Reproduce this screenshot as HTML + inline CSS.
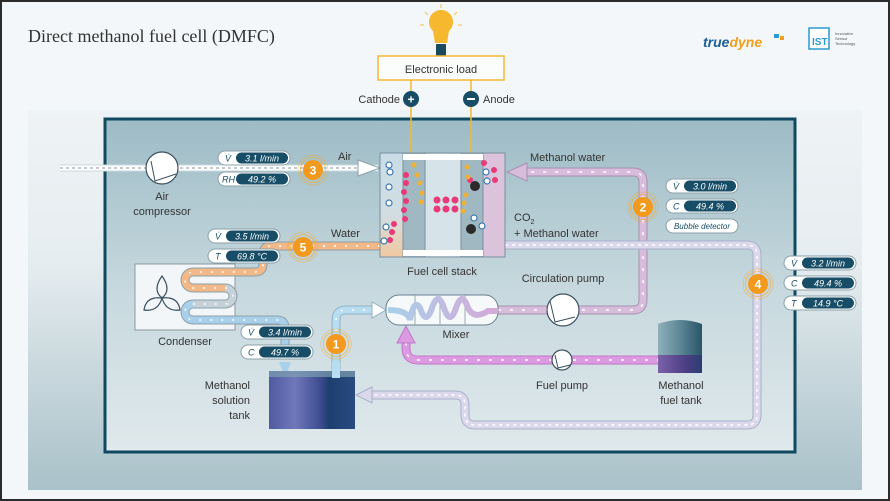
<!DOCTYPE html>
<html><head><meta charset="utf-8"><style>
html,body{margin:0;padding:0;background:#fff}
svg{display:block}
text{font-family:"Liberation Sans",sans-serif}
</style></head><body>
<svg width="890" height="501" viewBox="0 0 890 501" xmlns="http://www.w3.org/2000/svg">
<defs>
<linearGradient id="outer" x1="0" y1="0" x2="0" y2="1">
<stop offset="0" stop-color="#f3f6f8"/><stop offset="0.5" stop-color="#e6edf0"/><stop offset="1" stop-color="#a9c1c9"/></linearGradient>
<linearGradient id="inner" x1="0" y1="0" x2="0" y2="1">
<stop offset="0" stop-color="#9dbbc5"/><stop offset="0.5" stop-color="#c6d8de"/><stop offset="1" stop-color="#e0e9ec"/></linearGradient>
<linearGradient id="tank" x1="0" y1="0" x2="1" y2="0">
<stop offset="0" stop-color="#4f5aa0"/><stop offset="0.3" stop-color="#7078bb"/><stop offset="0.6" stop-color="#3d4c90"/><stop offset="0.7" stop-color="#1b3f6e"/><stop offset="1" stop-color="#2a4a80"/></linearGradient>
<linearGradient id="ftank" x1="0" y1="0" x2="1" y2="0">
<stop offset="0" stop-color="#8fb0ba"/><stop offset="0.5" stop-color="#5c8796"/><stop offset="1" stop-color="#2a5468"/></linearGradient>
<linearGradient id="ftank2" x1="0" y1="0" x2="1" y2="0">
<stop offset="0" stop-color="#7a62a8"/><stop offset="0.6" stop-color="#4e3f86"/><stop offset="1" stop-color="#2c3d70"/></linearGradient>
<linearGradient id="cath" x1="0" y1="0" x2="0" y2="1">
<stop offset="0" stop-color="#c9dde6"/><stop offset="0.6" stop-color="#d2dde2"/><stop offset="1" stop-color="#f3c9a0"/></linearGradient>
<linearGradient id="mix" x1="0" y1="0" x2="1" y2="0">
<stop offset="0" stop-color="#a8d0ea"/><stop offset="1" stop-color="#d6a8d8"/></linearGradient>
</defs>
<rect x="0" y="0" width="890" height="501" fill="#2b2b2b"/>
<rect x="2" y="2" width="886" height="497" fill="#f4f7f9"/>
<rect x="28" y="30" width="834" height="460" fill="url(#outer)"/>
<rect x="28" y="30" width="834" height="80" fill="#f4f7f9"/>
<rect x="105" y="119" width="690" height="333" fill="url(#inner)" stroke="#0f4a60" stroke-width="3"/>

<text x="28" y="42" style="font-family:'Liberation Serif',serif" font-size="18" fill="#333">Direct methanol fuel cell (DMFC)</text>
<text x="703" y="47" font-size="14" font-style="italic" font-weight="bold" fill="#1a5f96">true<tspan fill="#f0a020">dyne</tspan></text>
<rect x="774" y="34" width="5" height="4" fill="#2a9ad0"/><rect x="780" y="36" width="4" height="4" fill="#f0a020"/>
<rect x="809" y="28" width="20" height="21" fill="#fff" stroke="#2a9ad0" stroke-width="1.5"/>
<text x="812" y="45" font-size="10" fill="#2a9ad0" font-weight="bold">IST</text>
<text x="835" y="35" font-size="4" fill="#555">Innovative</text><text x="835" y="40" font-size="4" fill="#555">Sensor</text><text x="835" y="45" font-size="4" fill="#555">Technology</text>

<!-- bulb -->
<g stroke="#f5c860" stroke-width="1.2">
<line x1="441" y1="4" x2="441" y2="8"/><line x1="425" y1="12" x2="428" y2="15"/><line x1="457" y1="12" x2="454" y2="15"/><line x1="420" y1="25" x2="424" y2="25"/><line x1="462" y1="25" x2="458" y2="25"/>
</g>
<path d="M441 10 a12 12 0 0 1 8 21 l-2 12 h-12 l-2 -12 a12 12 0 0 1 8 -21z" fill="#f5b82e"/>
<rect x="436" y="44" width="10" height="12" rx="1" fill="#1a4a5e"/>
<rect x="378" y="56" width="126" height="24" fill="#fbfcfc" stroke="#f5b82e" stroke-width="1.5"/>
<text x="441" y="73" font-size="11" fill="#333" text-anchor="middle">Electronic load</text>
<line x1="411" y1="80" x2="411" y2="160" stroke="#f5b82e" stroke-width="1.5"/>
<line x1="471" y1="80" x2="471" y2="160" stroke="#f5b82e" stroke-width="1.5"/>
<circle cx="411" cy="99" r="8" fill="#174d66"/><text x="411" y="103.5" font-size="12" font-weight="bold" fill="#fff" text-anchor="middle">+</text>
<circle cx="471" cy="99" r="8" fill="#174d66"/><rect x="467" y="98" width="8" height="2" fill="#fff"/>
<text x="400" y="103" font-size="11" fill="#333" text-anchor="end">Cathode</text>
<text x="483" y="103" font-size="11" fill="#333">Anode</text>

<!-- condenser box -->
<rect x="135" y="264" width="100" height="66" fill="#f3f6f8" stroke="#8a9aa2"/>
<g fill="none" stroke="#3a5060" stroke-width="1.2">
<path d="M162 276 q-10 14 0 22 q10 -8 0 -22z"/><path d="M162 298 q-4 14 -18 12 q2 -14 18 -12z"/><path d="M162 298 q4 14 18 12 q-2 -14 -18 -12z"/>
</g>

<!-- pipes -->
<g fill="none" stroke-linejoin="round">
<!-- air -->
<path d="M60 168 H378" stroke="#c8d8de" stroke-width="7"/>
<path d="M60 168 H378" stroke="#fff" stroke-width="5"/>
<path d="M60 168 H378" stroke="#aabac2" stroke-width="1.5" stroke-dasharray="3 3"/>
<!-- water / condenser serpentine -->
<path d="M380 246 H271 q-8 0 -8 8 v10 q0 8 -8 8 H193 a8 8 0 0 0 0 16 H225 a8 8 0 0 1 0 16 H193 a8 8 0 0 0 0 16 H277 q8 0 8 8 v18" stroke="#8aa0aa" stroke-width="9"/>
<path d="M380 246 H271 q-8 0 -8 8 v10 q0 8 -8 8 H193 a8 8 0 0 0 0 16 H225" stroke="#f2b888" stroke-width="7"/>
<path d="M225 288 a8 8 0 0 1 0 16 H193" stroke="#c6d2d8" stroke-width="7"/>
<path d="M193 304 a8 8 0 0 0 0 16 H277 q8 0 8 8 v18" stroke="#a8d0ea" stroke-width="7"/>
<path d="M380 246 H271 q-8 0 -8 8 v10 q0 8 -8 8 H193 a8 8 0 0 0 0 16 H225 a8 8 0 0 1 0 16 H193 a8 8 0 0 0 0 16 H277 q8 0 8 8 v18" stroke="#fff" stroke-width="1.5" stroke-dasharray="2 9"/>
<!-- tank to mixer -->
<path d="M336 375 V320 q0 -10 10 -10 H372" stroke="#8fb2c6" stroke-width="9"/>
<path d="M336 375 V320 q0 -10 10 -10 H372" stroke="#b8dcf0" stroke-width="7"/>
<path d="M336 375 V320 q0 -10 10 -10 H372" stroke="#fff" stroke-width="1.5" stroke-dasharray="2 9"/>
<!-- methanol water loop -->
<path d="M498 310 H633 q10 0 10 -10 V182 q0 -10 -10 -10 H520" stroke="#a890b0" stroke-width="9"/>
<path d="M498 310 H633 q10 0 10 -10 V182 q0 -10 -10 -10 H520" stroke="#d8bcdc" stroke-width="7"/>
<path d="M498 310 H633 q10 0 10 -10 V182 q0 -10 -10 -10 H520" stroke="#fff" stroke-width="1.5" stroke-dasharray="3 9"/>
<!-- CO2 loop -->
<path d="M505 245 H747 q10 0 10 10 V415 q0 10 -10 10 H475 q-10 0 -10 -10 V405 q0 -10 -10 -10 H370" stroke="#a8b0c8" stroke-width="9"/>
<path d="M505 245 H747 q10 0 10 10 V415 q0 10 -10 10 H475 q-10 0 -10 -10 V405 q0 -10 -10 -10 H370" stroke="#dcd8ec" stroke-width="7"/>
<path d="M505 245 H747 q10 0 10 10 V415 q0 10 -10 10 H475 q-10 0 -10 -10 V405 q0 -10 -10 -10 H370" stroke="#fff" stroke-width="1.5" stroke-dasharray="3 4"/>
<!-- fuel line -->
<path d="M660 360 H418 q-12 0 -12 -12 V340" stroke="#c078c8" stroke-width="9"/>
<path d="M660 360 H418 q-12 0 -12 -12 V340" stroke="#dc9ae0" stroke-width="7"/>
<path d="M660 360 H418 q-12 0 -12 -12 V340" stroke="#fff" stroke-width="1.5" stroke-dasharray="3 9"/>
</g>
<!-- arrows -->
<path d="M358 160 L380 168 L358 176 Z" fill="#fff" stroke="#8aa0aa"/>
<path d="M372 302 L386 310 L372 318 Z" fill="#fff" stroke="#8fb2c6"/>
<path d="M527 163 L507 172 L527 181 Z" fill="#d8bcdc" stroke="#a890b0"/>
<path d="M372 387 L356 395 L372 403 Z" fill="#dcd8ec" stroke="#a8b0c8"/>
<path d="M397 343 L406 326 L415 343 Z" fill="#dc9ae0" stroke="#c078c8"/>
<path d="M279 362 L285 378 L291 362 Z" fill="#a8d0ea"/>

<!-- compressor -->
<circle cx="162" cy="168" r="16" fill="#fff" stroke="#3a5060" stroke-width="1.2"/>
<path d="M151 161 L155 181 L176 174" fill="none" stroke="#3a5060"/>
<text x="162" y="200" font-size="11" fill="#333" text-anchor="middle">Air</text>
<text x="162" y="215" font-size="11" fill="#333" text-anchor="middle">compressor</text>
<text x="185" y="345" font-size="11" fill="#333" text-anchor="middle">Condenser</text>

<!-- solution tank -->
<rect x="269" y="371" width="86" height="58" fill="url(#tank)"/>
<rect x="269" y="371" width="86" height="6" fill="#7fa0b0" opacity="0.7"/>
<rect x="332" y="362" width="8" height="16" fill="#b8dcf0"/>
<text x="250" y="389" font-size="11" fill="#333" text-anchor="end">Methanol</text>
<text x="250" y="404" font-size="11" fill="#333" text-anchor="end">solution</text>
<text x="250" y="419" font-size="11" fill="#333" text-anchor="end">tank</text>

<!-- mixer -->
<rect x="386" y="295" width="112" height="30" rx="13" fill="#f6f9fa" stroke="#6a8090"/>
<g stroke="#9aaab2"><line x1="415" y1="295" x2="415" y2="325"/><line x1="440" y1="295" x2="440" y2="325"/><line x1="465" y1="295" x2="465" y2="325"/></g>
<path d="M388 310 q20 0 22 10 q4 -22 10 -12 q6 18 12 0 q6 -18 12 0 q6 18 12 0 q6 -18 12 0 q6 12 20 3 H498" fill="none" stroke="url(#mix)" stroke-width="6"/>
<text x="456" y="338" font-size="11" fill="#333" text-anchor="middle">Mixer</text>

<!-- circulation pump -->
<circle cx="563" cy="310" r="16" fill="#fff" stroke="#3a5060" stroke-width="1.2"/>
<path d="M550 301 L555 322 L575 317" fill="none" stroke="#3a5060"/>
<text x="563" y="282" font-size="11" fill="#333" text-anchor="middle">Circulation pump</text>
<!-- fuel pump -->
<circle cx="562" cy="360" r="10" fill="#fff" stroke="#3a5060" stroke-width="1.2"/>
<path d="M555 355 L558 368 L570 365" fill="none" stroke="#3a5060"/>
<text x="562" y="389" font-size="11" fill="#333" text-anchor="middle">Fuel pump</text>
<!-- fuel tank -->
<path d="M658 324 q22 -8 44 0 V355 H658z" fill="url(#ftank)"/>
<rect x="658" y="355" width="44" height="18" fill="url(#ftank2)"/>
<text x="681" y="389" font-size="11" fill="#333" text-anchor="middle">Methanol</text>
<text x="681" y="404" font-size="11" fill="#333" text-anchor="middle">fuel tank</text>

<!-- fuel cell stack -->
<rect x="380" y="153" width="23" height="104" fill="url(#cath)" stroke="#7890a0"/>
<rect x="403" y="153" width="22" height="104" fill="#9fb8c2" stroke="#7890a0"/>
<rect x="425" y="153" width="36" height="104" fill="#d6e4e9" stroke="#7890a0"/>
<rect x="461" y="153" width="22" height="104" fill="#9fb8c2" stroke="#7890a0"/>
<rect x="483" y="153" width="22" height="104" fill="#dcc3dc" stroke="#7890a0"/>
<rect x="403" y="154" width="80" height="6" fill="#fff"/>
<rect x="403" y="250" width="80" height="6" fill="#fff"/>
<g>
<g fill="#fff" stroke="#3a78b0" stroke-width="1.2">
<circle cx="389" cy="165" r="3"/><circle cx="390" cy="172" r="3"/><circle cx="389" cy="187" r="3"/><circle cx="389" cy="203" r="3"/><circle cx="386" cy="227" r="3"/><circle cx="384" cy="241" r="3"/>
<circle cx="486" cy="172" r="3"/><circle cx="487" cy="181" r="3"/><circle cx="474" cy="218" r="3"/><circle cx="482" cy="226" r="3"/>
</g>
<g fill="#e83a78">
<circle cx="406" cy="175" r="3"/><circle cx="406" cy="183" r="3"/><circle cx="404" cy="192" r="3"/><circle cx="406" cy="201" r="3"/><circle cx="404" cy="210" r="3"/><circle cx="405" cy="219" r="3"/><circle cx="394" cy="224" r="3"/><circle cx="392" cy="232" r="3"/><circle cx="390" cy="240" r="3"/>
<circle cx="437" cy="200" r="3.5"/><circle cx="446" cy="200" r="3.5"/><circle cx="455" cy="200" r="3.5"/><circle cx="437" cy="209" r="3.5"/><circle cx="446" cy="209" r="3.5"/><circle cx="455" cy="209" r="3.5"/>
<circle cx="484" cy="163" r="3"/><circle cx="494" cy="170" r="3"/><circle cx="495" cy="180" r="3"/><circle cx="470" cy="180" r="3"/><circle cx="474" cy="188" r="3"/>
</g>
<g fill="#f0b030">
<circle cx="414" cy="165" r="2.5"/><circle cx="417" cy="175" r="2.5"/><circle cx="420" cy="183" r="2.5"/><circle cx="422" cy="193" r="2.5"/><circle cx="421" cy="202" r="2.5"/>
<circle cx="467" cy="167" r="2.5"/><circle cx="468" cy="177" r="2.5"/><circle cx="466" cy="195" r="2.5"/><circle cx="464" cy="203" r="2.5"/><circle cx="463" cy="211" r="2.5"/>
</g>
<circle cx="475" cy="186" r="5" fill="#2a2a2a"/><circle cx="471" cy="229" r="5" fill="#2a2a2a"/>
</g>
<text x="442" y="275" font-size="11" fill="#333" text-anchor="middle">Fuel cell stack</text>

<!-- labels -->
<text x="338" y="160" font-size="11" fill="#333">Air</text>
<text x="331" y="237" font-size="11" fill="#333">Water</text>
<text x="530" y="161" font-size="11" fill="#333">Methanol water</text>
<text x="514" y="221" font-size="11" fill="#333">CO<tspan font-size="7" dy="3">2</tspan></text>
<text x="514" y="237" font-size="11" fill="#333">+ Methanol water</text>

<!-- sensor badges -->
<g font-size="9" font-style="italic">
<rect x="218" y="151" width="72" height="14" rx="7" fill="#fff" stroke="#8aa0aa"/><rect x="236" y="152.5" width="52" height="11" rx="5.5" fill="#174d66"/><text x="225" y="161.5" fill="#174d66">V̇</text><text x="262" y="161.5" fill="#fff" text-anchor="middle">3.1 l/min</text>
<rect x="218" y="172" width="72" height="14" rx="7" fill="#fff" stroke="#8aa0aa"/><rect x="236" y="173.5" width="52" height="11" rx="5.5" fill="#174d66"/><text x="222" y="182.5" fill="#174d66">RH</text><text x="262" y="182.5" fill="#fff" text-anchor="middle">49.2 %</text>

<rect x="208" y="229" width="72" height="14" rx="7" fill="#fff" stroke="#8aa0aa"/><rect x="226" y="230.5" width="52" height="11" rx="5.5" fill="#174d66"/><text x="215" y="239.5" fill="#174d66">V̇</text><text x="252" y="239.5" fill="#fff" text-anchor="middle">3.5 l/min</text>
<rect x="208" y="249" width="72" height="14" rx="7" fill="#fff" stroke="#8aa0aa"/><rect x="226" y="250.5" width="52" height="11" rx="5.5" fill="#174d66"/><text x="215" y="259.5" fill="#174d66">T</text><text x="252" y="259.5" fill="#fff" text-anchor="middle">69.8 °C</text>

<rect x="241" y="325" width="72" height="14" rx="7" fill="#fff" stroke="#8aa0aa"/><rect x="259" y="326.5" width="52" height="11" rx="5.5" fill="#174d66"/><text x="248" y="335.5" fill="#174d66">V̇</text><text x="285" y="335.5" fill="#fff" text-anchor="middle">3.4 l/min</text>
<rect x="241" y="345" width="72" height="14" rx="7" fill="#fff" stroke="#8aa0aa"/><rect x="259" y="346.5" width="52" height="11" rx="5.5" fill="#174d66"/><text x="248" y="355.5" fill="#174d66">C</text><text x="285" y="355.5" fill="#fff" text-anchor="middle">49.7 %</text>

<rect x="666" y="179" width="72" height="14" rx="7" fill="#fff" stroke="#8aa0aa"/><rect x="684" y="180.5" width="52" height="11" rx="5.5" fill="#174d66"/><text x="673" y="189.5" fill="#174d66">V̇</text><text x="710" y="189.5" fill="#fff" text-anchor="middle">3.0 l/min</text>
<rect x="666" y="199" width="72" height="14" rx="7" fill="#fff" stroke="#8aa0aa"/><rect x="684" y="200.5" width="52" height="11" rx="5.5" fill="#174d66"/><text x="673" y="209.5" fill="#174d66">C</text><text x="710" y="209.5" fill="#fff" text-anchor="middle">49.4 %</text>
<rect x="666" y="219" width="72" height="14" rx="7" fill="#fff" stroke="#8aa0aa"/><text x="702" y="229" fill="#174d66" font-size="8" text-anchor="middle">Bubble detector</text>

<rect x="784" y="256" width="72" height="14" rx="7" fill="#fff" stroke="#8aa0aa"/><rect x="802" y="257.5" width="52" height="11" rx="5.5" fill="#174d66"/><text x="791" y="266.5" fill="#174d66">V̇</text><text x="828" y="266.5" fill="#fff" text-anchor="middle">3.2 l/min</text>
<rect x="784" y="276" width="72" height="14" rx="7" fill="#fff" stroke="#8aa0aa"/><rect x="802" y="277.5" width="52" height="11" rx="5.5" fill="#174d66"/><text x="791" y="286.5" fill="#174d66">C</text><text x="828" y="286.5" fill="#fff" text-anchor="middle">49.4 %</text>
<rect x="784" y="296" width="72" height="14" rx="7" fill="#fff" stroke="#8aa0aa"/><rect x="802" y="297.5" width="52" height="11" rx="5.5" fill="#174d66"/><text x="791" y="306.5" fill="#174d66">T</text><text x="828" y="306.5" fill="#fff" text-anchor="middle">14.9 °C</text>
</g>

<!-- numbered markers -->
<g font-size="12" font-weight="bold" fill="#fff" text-anchor="middle">
<g><circle cx="313" cy="170" r="15" fill="none" stroke="#f5a623" stroke-opacity="0.4"/><circle cx="313" cy="170" r="12.5" fill="none" stroke="#f5a623" stroke-opacity="0.6"/><circle cx="313" cy="170" r="10" fill="#f39a1e"/><text x="313" y="174.5">3</text></g>
<g><circle cx="303" cy="247" r="15" fill="none" stroke="#f5a623" stroke-opacity="0.4"/><circle cx="303" cy="247" r="12.5" fill="none" stroke="#f5a623" stroke-opacity="0.6"/><circle cx="303" cy="247" r="10" fill="#f39a1e"/><text x="303" y="251.5">5</text></g>
<g><circle cx="336" cy="344" r="15" fill="none" stroke="#f5a623" stroke-opacity="0.4"/><circle cx="336" cy="344" r="12.5" fill="none" stroke="#f5a623" stroke-opacity="0.6"/><circle cx="336" cy="344" r="10" fill="#f39a1e"/><text x="336" y="348.5">1</text></g>
<g><circle cx="643" cy="207" r="15" fill="none" stroke="#f5a623" stroke-opacity="0.4"/><circle cx="643" cy="207" r="12.5" fill="none" stroke="#f5a623" stroke-opacity="0.6"/><circle cx="643" cy="207" r="10" fill="#f39a1e"/><text x="643" y="211.5">2</text></g>
<g><circle cx="758" cy="284" r="15" fill="none" stroke="#f5a623" stroke-opacity="0.4"/><circle cx="758" cy="284" r="12.5" fill="none" stroke="#f5a623" stroke-opacity="0.6"/><circle cx="758" cy="284" r="10" fill="#f39a1e"/><text x="758" y="288.5">4</text></g>
</g>
</svg>
</body></html>
